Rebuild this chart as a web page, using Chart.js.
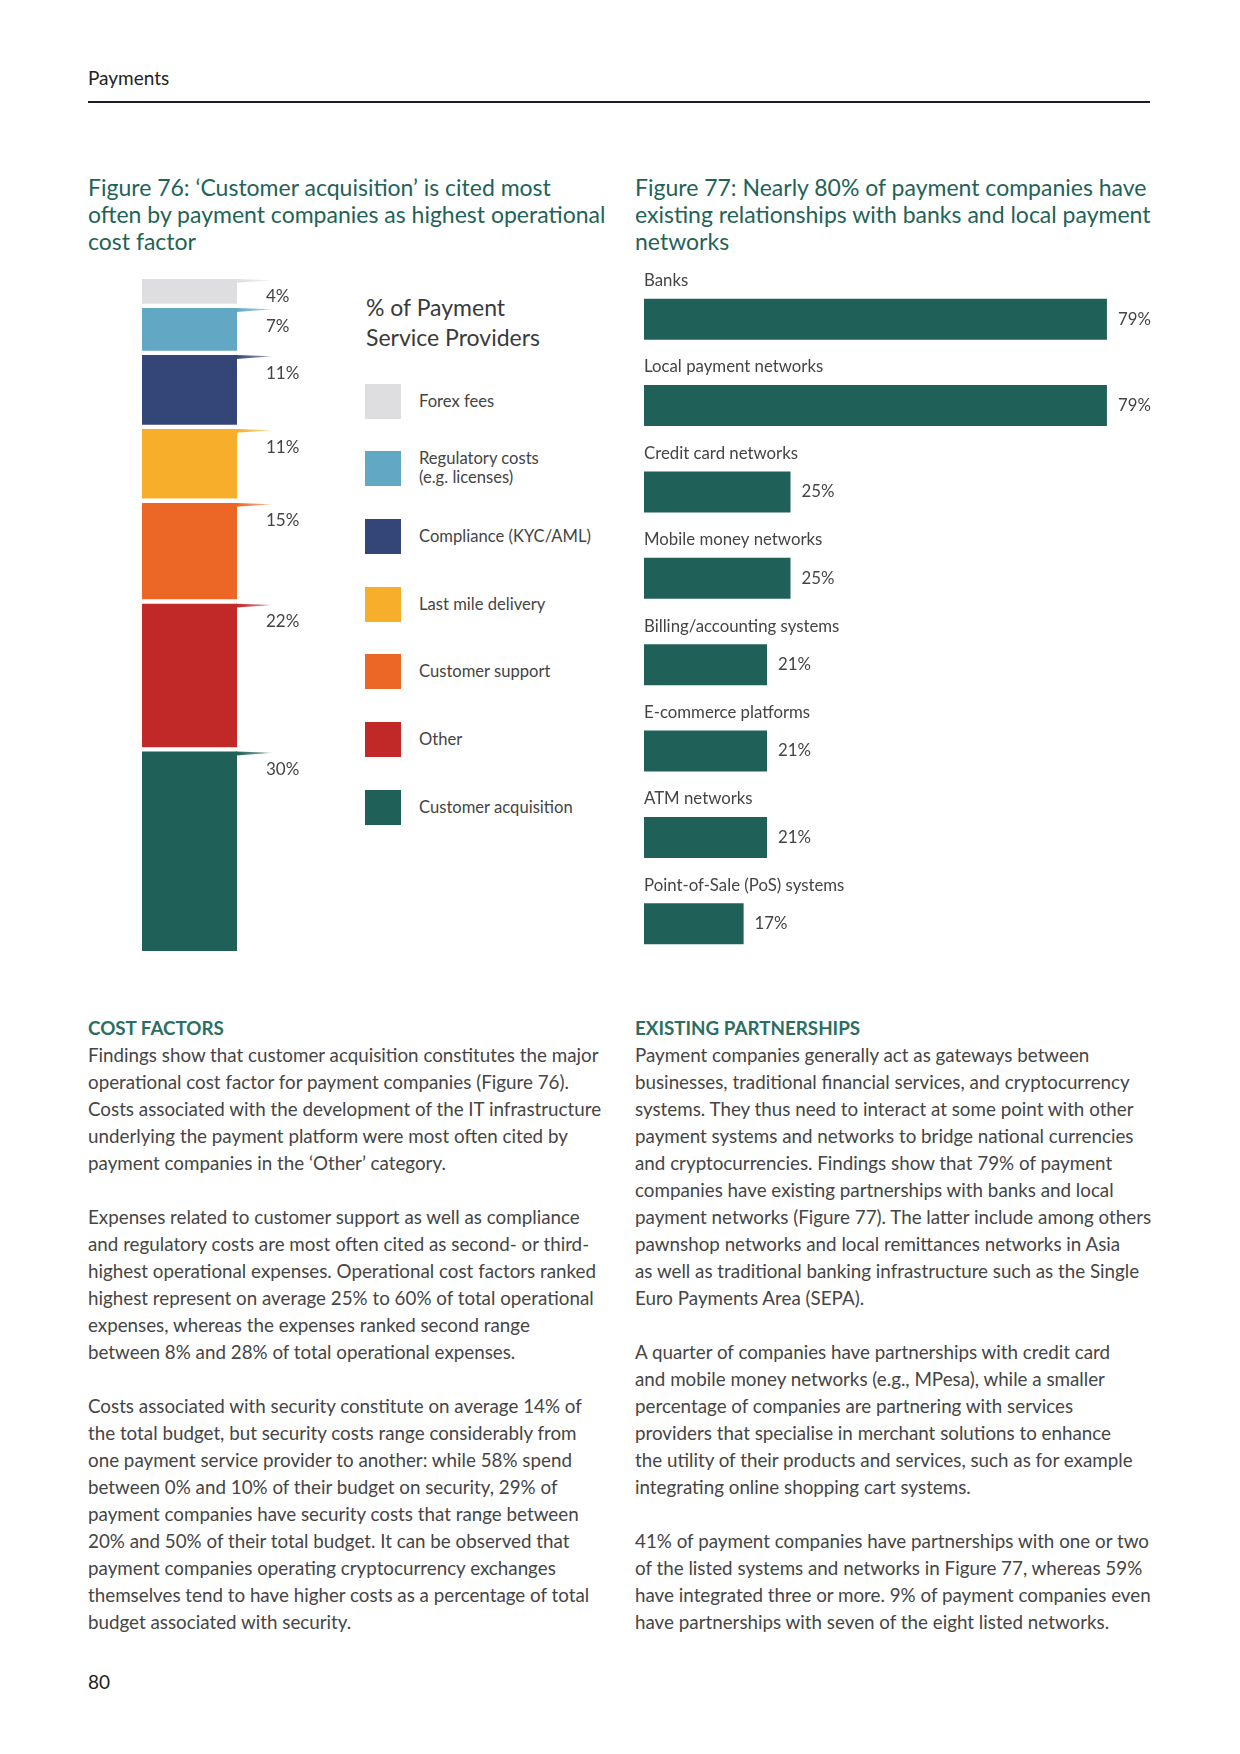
<!DOCTYPE html>
<html><head><meta charset="utf-8">
<script src="https://cdn.jsdelivr.net/npm/chart.js@4.4.1/dist/chart.umd.min.js"></script>
<style>
html,body{margin:0;padding:0;background:#fff;}
#page{position:relative;width:1240px;height:1754px;overflow:hidden;font-family:Lato,'Noto Sans',sans-serif;color:#444;}
.abs{position:absolute;white-space:nowrap;}
.title{font-size:23px;line-height:27px;color:#1f6357;}
.col{font-size:18.8px;line-height:27px;color:#454545;}
.col b{color:#2c6e62;font-weight:700;font-size:18.8px;}
.lg-box{position:absolute;width:36px;height:35px;}
.lg-txt{position:absolute;font-size:16.6px;line-height:19px;color:#444;white-space:pre;}
</style></head><body><div id="page">
<div class="abs" style="left:88px;top:67px;font-size:19px;line-height:22px;color:#222;">Payments</div>
<div class="abs" style="left:88px;top:101px;width:1062px;height:1.5px;background:#1b1d2a;"></div>

<div class="abs title" style="left:88px;top:174px;">Figure 76: ‘Customer acquisition’ is cited most<br>often by payment companies as highest operational<br>cost factor</div>
<div class="abs title" style="left:635px;top:174px;">Figure 77: Nearly 80% of payment companies have<br>existing relationships with banks and local payment<br>networks</div>

<canvas id="c76" width="190" height="672" class="abs" style="left:142px;top:279px;"></canvas>
<div id="legend76"></div>
<canvas id="c77" width="586" height="711" class="abs" style="left:644px;top:256px;"></canvas>

<div class="abs col" style="left:88px;top:1014px;"><b>COST FACTORS</b><br>Findings show that customer acquisition constitutes the major<br>operational cost factor for payment companies (Figure 76).<br>Costs associated with the development of the IT infrastructure<br>underlying the payment platform were most often cited by<br>payment companies in the ‘Other’ category.<br><br>Expenses related to customer support as well as compliance<br>and regulatory costs are most often cited as second- or third-<br>highest operational expenses. Operational cost factors ranked<br>highest represent on average 25% to 60% of total operational<br>expenses, whereas the expenses ranked second range<br>between 8% and 28% of total operational expenses.<br><br>Costs associated with security constitute on average 14% of<br>the total budget, but security costs range considerably from<br>one payment service provider to another: while 58% spend<br>between 0% and 10% of their budget on security, 29% of<br>payment companies have security costs that range between<br>20% and 50% of their total budget. It can be observed that<br>payment companies operating cryptocurrency exchanges<br>themselves tend to have higher costs as a percentage of total<br>budget associated with security.</div>

<div class="abs col" style="left:635px;top:1014px;"><b>EXISTING PARTNERSHIPS</b><br>Payment companies generally act as gateways between<br>businesses, traditional financial services, and cryptocurrency<br>systems. They thus need to interact at some point with other<br>payment systems and networks to bridge national currencies<br>and cryptocurrencies. Findings show that 79% of payment<br>companies have existing partnerships with banks and local<br>payment networks (Figure 77). The latter include among others<br>pawnshop networks and local remittances networks in Asia<br>as well as traditional banking infrastructure such as the Single<br>Euro Payments Area (SEPA).<br><br>A quarter of companies have partnerships with credit card<br>and mobile money networks (e.g., MPesa), while a smaller<br>percentage of companies are partnering with services<br>providers that specialise in merchant solutions to enhance<br>the utility of their products and services, such as for example<br>integrating online shopping cart systems.<br><br>41% of payment companies have partnerships with one or two<br>of the listed systems and networks in Figure 77, whereas 59%<br>have integrated three or more. 9% of payment companies even<br>have partnerships with seven of the eight listed networks.</div>

<div class="abs" style="left:88px;top:1671px;font-size:19px;line-height:22px;color:#222;">80</div>
</div>
<script>
// ---- Figure 76 data (top to bottom) ----
const costFactors = ['Forex fees', 'Regulatory costs\n(e.g. licenses)', 'Compliance (KYC/AML)', 'Last mile delivery', 'Customer support', 'Other', 'Customer acquisition'];
const costShares = [4, 7, 11, 11, 15, 22, 30];
const costColors = ['#dedde0', '#62a8c5', '#344677', '#f7ae2b', '#ec6726', '#c12828', '#1f6158'];
const legendTitle = '% of Payment\nService Providers';

// ---- Figure 77 data ----
const partnerCategories = ['Banks', 'Local payment networks', 'Credit card networks', 'Mobile money networks', 'Billing/accounting systems', 'E-commerce platforms', 'ATM networks', 'Point-of-Sale (PoS) systems'];
const partnerShares = [79, 79, 25, 25, 21, 21, 21, 17];
const barColor = '#1f6158';

function hexA(hex, a){
  const n = parseInt(hex.slice(1), 16);
  return 'rgba(' + ((n>>16)&255) + ',' + ((n>>8)&255) + ',' + (n&255) + ',' + a + ')';
}

// legend (HTML built from arrays)
(function(){
  const host = document.getElementById('legend76');
  const t = document.createElement('div');
  t.className = 'abs';
  t.style.cssText = 'left:366px;top:292px;font-size:23px;line-height:30px;color:#3a3a3a;white-space:pre;';
  t.textContent = legendTitle;
  host.appendChild(t);
  costFactors.forEach((lab, i) => {
    const cy = 401 + i * 67.7;
    const b = document.createElement('div');
    b.className = 'lg-box';
    b.style.left = '365px'; b.style.top = (cy - 17.5) + 'px'; b.style.background = costColors[i];
    host.appendChild(b);
    const tx = document.createElement('div');
    tx.className = 'lg-txt';
    const lines = lab.split('\n').length;
    tx.style.left = '419px'; tx.style.top = (cy - lines * 19 / 2 + (lines > 1 ? -0.5 : 0)) + 'px';
    tx.textContent = lab;
    host.appendChild(tx);
  });
})();

const wedgePlugin = {
  id: 'wedges',
  afterDatasetsDraw(chart){
    const ctx = chart.ctx;
    ctx.save();
    chart.data.datasets.forEach((ds, di) => {
      const meta = chart.getDatasetMeta(di);
      meta.data.forEach((bar) => {
        const p = bar.getProps(['x', 'y', 'base', 'width'], true);
        const right = p.x + p.width / 2;
        const top = Math.min(p.y, p.base) + (ds.borderWidth.top || 0);
        const g = ctx.createLinearGradient(right, 0, right + 37, 0);
        g.addColorStop(0, ds.backgroundColor);
        g.addColorStop(0.7, hexA(ds.backgroundColor, 0.6));
        g.addColorStop(1, hexA(ds.backgroundColor, 0.1));
        ctx.fillStyle = g;
        ctx.beginPath();
        ctx.moveTo(right - 1, top);
        ctx.lineTo(right + 37, top + 1.2);
        ctx.lineTo(right - 1, top + 3.8);
        ctx.closePath();
        ctx.fill();
        ctx.fillStyle = '#444';
        ctx.font = '17px Lato';
        ctx.textBaseline = 'middle';
        ctx.textAlign = 'left';
        ctx.fillText(ds.data[0] + '%', right + 29, top + 18);
      });
    });
    ctx.restore();
  }
};

const labels77Plugin = {
  id: 'labels77',
  afterDatasetsDraw(chart){
    const ctx = chart.ctx;
    ctx.save();
    ctx.font = '16.8px Lato';
    ctx.textBaseline = 'middle';
    ctx.textAlign = 'left';
    const meta = chart.getDatasetMeta(0);
    meta.data.forEach((bar, i) => {
      const p = bar.getProps(['x', 'y', 'base', 'height'], true);
      ctx.fillStyle = '#444';
      ctx.fillText(chart.data.labels[i], chart.chartArea.left, p.y - p.height / 2 - 18);
      ctx.fillText(chart.data.datasets[0].data[i] + '%', p.x + 11, p.y);
    });
    ctx.restore();
  }
};

function build(){
  // Figure 76: stacked bar, bottom dataset first
  const n = costFactors.length;
  const ds76 = [];
  for (let i = n - 1; i >= 0; i--) {
    ds76.push({
      label: costFactors[i],
      data: [costShares[i]],
      backgroundColor: costColors[i],
      borderColor: '#ffffff',
      borderWidth: { top: i === 0 ? 0 : 2.2, bottom: i === n - 1 ? 0 : 2.2, left: 0, right: 0 },
      borderSkipped: false,
      inflateAmount: 0,
      barPercentage: 1,
      categoryPercentage: 1
    });
  }
  new Chart(document.getElementById('c76'), {
    type: 'bar',
    data: { labels: ['Cost factor', ''], datasets: ds76 },
    options: {
      responsive: false, animation: false,
      layout: { padding: 0 },
      plugins: { legend: { display: false }, tooltip: { enabled: false } },
      scales: {
        x: { stacked: true, display: false },
        y: { stacked: true, display: false, min: 0, max: 100 }
      }
    },
    plugins: [wedgePlugin]
  });

  new Chart(document.getElementById('c77'), {
    type: 'bar',
    data: { labels: partnerCategories, datasets: [{ data: partnerShares, backgroundColor: barColor, barThickness: 41, borderWidth: 0, inflateAmount: 0 }] },
    options: {
      indexAxis: 'y',
      responsive: false, animation: false,
      layout: { padding: { top: 20, left: 0, right: 0, bottom: 0 } },
      plugins: { legend: { display: false }, tooltip: { enabled: false } },
      scales: {
        x: { display: false, min: 0, max: 100 },
        y: { display: false }
      }
    },
    plugins: [labels77Plugin]
  });
}

Promise.all([document.fonts.load('16px Lato'), document.fonts.load('bold 16px Lato')]).then(build, build);
</script>
</body></html>
